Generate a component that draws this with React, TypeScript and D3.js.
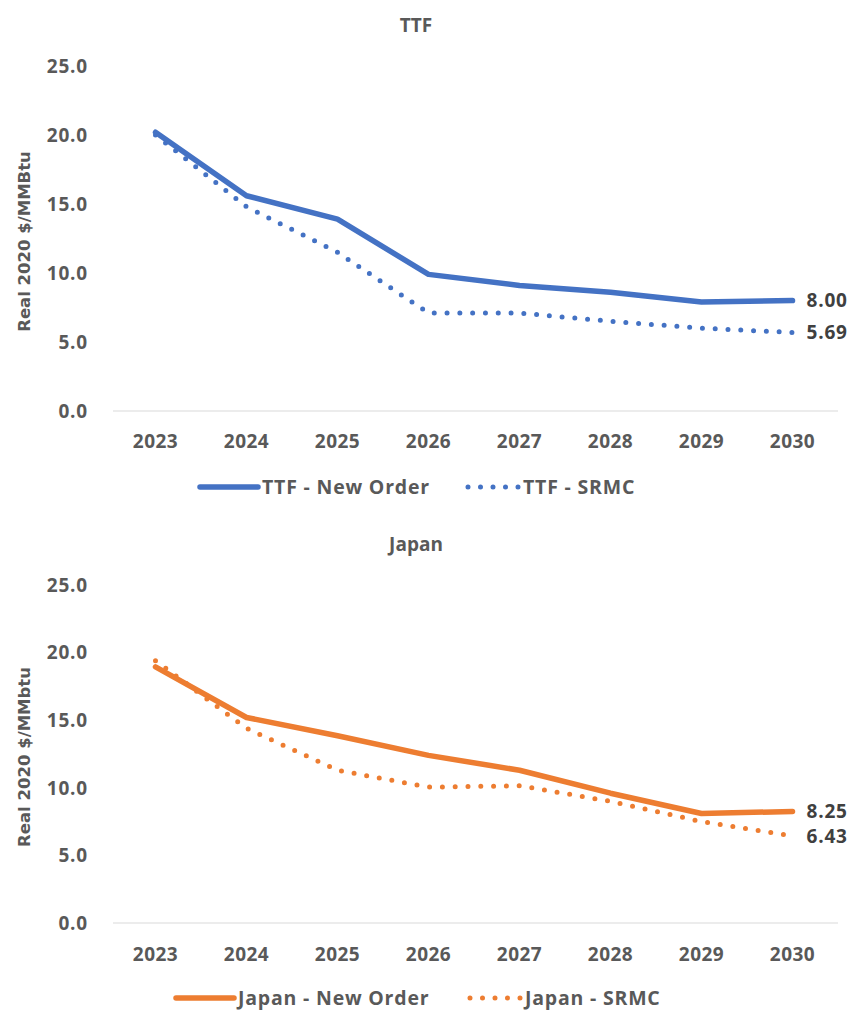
import React from "react";
import * as d3 from "d3";

const years = ["2023", "2024", "2025", "2026", "2027", "2028", "2029", "2030"];
const yTicks = [0, 5, 10, 15, 20, 25];

const ttfNewOrder = [20.2, 15.6, 13.9, 9.9, 9.1, 8.6, 7.9, 8.0];
const ttfSrmc = [20.0, 14.8, 11.5, 7.1, 7.1, 6.5, 6.0, 5.69];
const japanNewOrder = [18.95, 15.2, 13.85, 12.4, 11.3, 9.6, 8.1, 8.25];
const japanSrmc = [19.4, 14.4, 11.3, 10.05, 10.15, 9.0, 7.5, 6.43];

const BLUE = "#4472C4";
const ORANGE = "#ED7D31";
const GRAY = "#595959";
const FONT = "'Open Sans', 'Noto Sans', sans-serif";

type PanelProps = {
  titleY: number;
  title: string;
  yTitle: string;
  solid: number[];
  dotted: number[];
  color: string;
  solidName: string;
  dottedName: string;
  y0: number;
  y25: number;
  yearY: number;
  legendY: number;
  legendSolidX: number;
  legendDotX: number;
};

function Panel(p: PanelProps) {
  const x = d3.scaleBand<string>().domain(years).range([110, 838]).padding(0);
  const cx = (d: string) => (x(d) as number) + x.bandwidth() / 2;
  const y = d3.scaleLinear().domain([0, 25]).range([p.y0, p.y25]);
  const line = d3
    .line<number>()
    .x((_, i) => cx(years[i]))
    .y((v) => y(v));
  const lastX = cx(years[years.length - 1]);
  const lastSolid = p.solid[p.solid.length - 1];
  const lastDot = p.dotted[p.dotted.length - 1];
  const dash = "0 12.8";
  return (
    <g>
      <text x={416} y={p.titleY} textAnchor="middle" fontFamily={FONT} fontWeight={700} fontSize={19} fill={GRAY}>
        {p.title}
      </text>
      {yTicks.map((t) => (
        <text key={t} x={88} y={y(t)} dy="0.36em" textAnchor="end" fontFamily={FONT} fontWeight={700} fontSize={19} letterSpacing={0.8} fill={GRAY}>
          {d3.format(".1f")(t)}
        </text>
      ))}
      <text
        transform={`translate(30,${(p.y0 + p.y25) / 2 + 3}) rotate(-90)`}
        textAnchor="middle"
        fontFamily="'DejaVu Sans', Verdana, sans-serif"
        fontWeight={700}
        fontSize={16.5}
        fill={GRAY}
      >
        {p.yTitle}
      </text>
      <line x1={113} x2={838} y1={p.y0} y2={p.y0} stroke="#D9D9D9" strokeWidth={1} />
      {years.map((yr) => (
        <text key={yr} x={cx(yr)} y={p.yearY} textAnchor="middle" fontFamily={FONT} fontWeight={700} fontSize={19} letterSpacing={0.5} fill={GRAY}>
          {yr}
        </text>
      ))}
      <path d={line(p.dotted) || ""} fill="none" stroke={p.color} strokeWidth={5} strokeLinecap="round" strokeDasharray={dash} />
      <path d={line(p.solid) || ""} fill="none" stroke={p.color} strokeWidth={5.5} strokeLinecap="round" strokeLinejoin="round" />
      <text x={lastX + 14} y={y(lastSolid)} dy="0.36em" fontFamily={FONT} fontWeight={700} fontSize={19} letterSpacing={0.8} fill="#404040">
        {d3.format(".2f")(lastSolid)}
      </text>
      <text x={lastX + 14} y={y(lastDot)} dy="0.36em" fontFamily={FONT} fontWeight={700} fontSize={19} letterSpacing={0.8} fill="#404040">
        {d3.format(".2f")(lastDot)}
      </text>
      <line x1={p.legendSolidX} x2={p.legendSolidX + 58} y1={p.legendY} y2={p.legendY} stroke={p.color} strokeWidth={5.5} strokeLinecap="round" />
      <text x={p.legendSolidX + 62} y={p.legendY} dy="0.36em" fontFamily={FONT} fontWeight={700} fontSize={19.5} letterSpacing={0.8} fill={GRAY}>
        {p.solidName}
      </text>
      <line x1={p.legendDotX} x2={p.legendDotX + 52} y1={p.legendY} y2={p.legendY} stroke={p.color} strokeWidth={5} strokeLinecap="round" strokeDasharray="0 12.5" />
      <text x={p.legendDotX + 55} y={p.legendY} dy="0.36em" fontFamily={FONT} fontWeight={700} fontSize={19.5} letterSpacing={0.8} fill={GRAY}>
        {p.dottedName}
      </text>
    </g>
  );
}

export default function App() {
  return (
    <svg width={852} height={1010} style={{ display: "block", position: "absolute", left: 0, top: 0, background: "#fff" }}>
      <rect width={852} height={1010} fill="#fff" />
      <Panel
        titleY={32}
        title="TTF"
        yTitle="Real 2020 $/MMBtu"
        solid={ttfNewOrder}
        dotted={ttfSrmc}
        color={BLUE}
        solidName="TTF - New Order"
        dottedName="TTF - SRMC"
        y0={411}
        y25={66}
        yearY={448}
        legendY={487}
        legendSolidX={200}
        legendDotX={468}
      />
      <Panel
        titleY={551}
        title="Japan"
        yTitle="Real 2020 $/MMbtu"
        solid={japanNewOrder}
        dotted={japanSrmc}
        color={ORANGE}
        solidName="Japan - New Order"
        dottedName="Japan - SRMC"
        y0={923}
        y25={585}
        yearY={961}
        legendY={998}
        legendSolidX={176}
        legendDotX={470}
      />
    </svg>
  );
}
